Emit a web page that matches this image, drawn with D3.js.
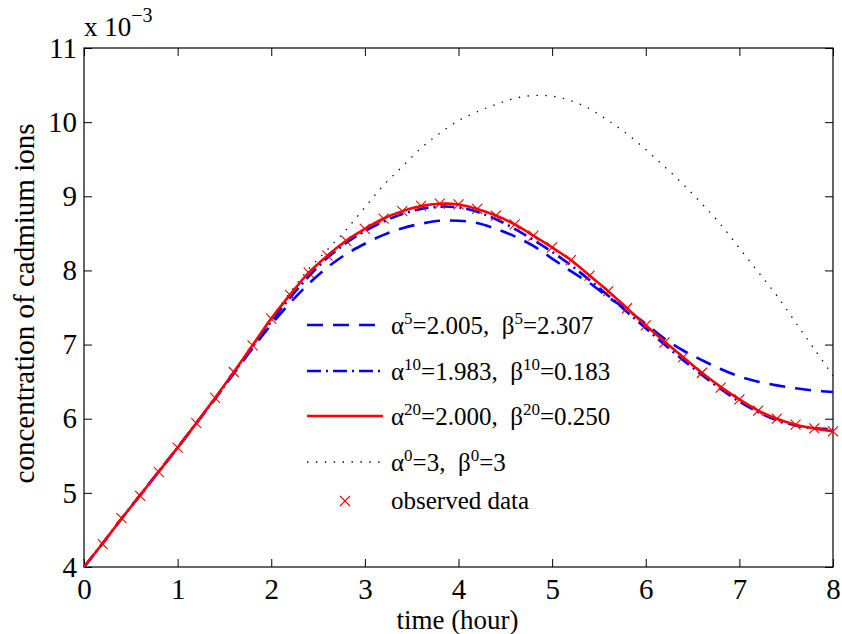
<!DOCTYPE html>
<html>
<head>
<meta charset="utf-8">
<script src="https://cdn.jsdelivr.net/npm/d3@7"></script>
<style>
  body { margin: 0; background: #fff; }
  text { font-family: "Liberation Serif", "Times New Roman", serif; fill: #000; }
</style>
</head>
<body>
<div id="chart"></div>
<script>
// concentration values are in units of 10^-3
const time = [0, 0.2, 0.4, 0.6, 0.8, 1.0, 1.2, 1.4, 1.6, 1.8, 2.0, 2.2, 2.4, 2.6, 2.8, 3.0, 3.2, 3.4, 3.6, 3.8, 4.0,
              4.2, 4.4, 4.6, 4.8, 5.0, 5.2, 5.4, 5.6, 5.8, 6.0, 6.2, 6.4, 6.6, 6.8, 7.0, 7.2, 7.4, 7.6, 7.8, 8.0]

// alpha^0 = 3, beta^0 = 3 (initial guess, dotted)
const fit0 = [4.00, 4.32, 4.65, 4.97, 5.29, 5.61, 5.94, 6.28, 6.63, 6.99, 7.36, 7.70, 8.02, 8.28, 8.55, 8.85, 9.15, 9.40, 9.65, 9.85, 10.02,
              10.14, 10.24, 10.32, 10.36, 10.35, 10.29, 10.18, 10.02, 9.84, 9.63, 9.40, 9.16, 8.90, 8.62, 8.30, 7.98, 7.66, 7.30, 6.94, 6.58]
// alpha^5, beta^5 (dashed)
const fit5 = [4.00, 4.32, 4.65, 4.97, 5.29, 5.61, 5.94, 6.27, 6.61, 6.95, 7.27, 7.56, 7.82, 8.04, 8.22, 8.36, 8.48, 8.57, 8.63, 8.67, 8.67,
              8.64, 8.56, 8.46, 8.33, 8.16, 7.99, 7.83, 7.64, 7.47, 7.28, 7.08, 6.92, 6.79, 6.67, 6.57, 6.50, 6.45, 6.41, 6.38, 6.36]
// alpha^10, beta^10 (dash-dot)
const fit10 = [4.00, 4.32, 4.65, 4.97, 5.29, 5.61, 5.94, 6.27, 6.62, 6.97, 7.31, 7.63, 7.92, 8.17, 8.37, 8.53, 8.66, 8.76, 8.83, 8.86, 8.85,
               8.79, 8.69, 8.56, 8.41, 8.25, 8.07, 7.87, 7.66, 7.44, 7.22, 7.00, 6.79, 6.59, 6.40, 6.23, 6.09, 5.98, 5.91, 5.87, 5.86]
// alpha^20, beta^20 (solid red)
const fit20 = [4.00, 4.32, 4.65, 4.97, 5.29, 5.61, 5.94, 6.28, 6.63, 6.99, 7.35, 7.67, 7.97, 8.20, 8.40, 8.56, 8.70, 8.80, 8.87, 8.90, 8.89,
               8.83, 8.74, 8.62, 8.47, 8.31, 8.14, 7.93, 7.72, 7.49, 7.26, 7.04, 6.83, 6.62, 6.43, 6.26, 6.11, 6.00, 5.92, 5.87, 5.83]

// observed data (x markers)
const obsTime = [0.2, 0.4, 0.6, 0.8, 1.0, 1.2, 1.4, 1.6, 1.8, 2.0, 2.2, 2.4, 2.6, 2.8, 3.0, 3.2, 3.4, 3.6, 3.8, 4.0,
                 4.2, 4.4, 4.6, 4.8, 5.0, 5.2, 5.4, 5.6, 5.8, 6.0, 6.2, 6.4, 6.6, 6.8, 7.0, 7.2, 7.4, 7.6, 7.8, 8.0]
const obsConc = [4.31, 4.66, 4.96, 5.28, 5.61, 5.94, 6.28, 6.63, 6.99, 7.35, 7.67, 7.97, 8.20, 8.40, 8.56, 8.70, 8.80, 8.87, 8.90, 8.89,
                 8.83, 8.74, 8.62, 8.47, 8.31, 8.14, 7.93, 7.72, 7.49, 7.26, 7.03, 6.83, 6.62, 6.42, 6.26, 6.11, 6.00, 5.92, 5.87, 5.83]

const xTicks = [0, 1, 2, 3, 4, 5, 6, 7, 8]
const yTicks = [4, 5, 6, 7, 8, 9, 10, 11]

const legendSup = ["5", "10", "20", "0"]
const alphaVals = ["2.005", "1.983", "2.000", "3"]
const betaVals = ["2.307", "0.183", "0.250", "3"]

var margin = {top: 48, right: 9, bottom: 67, left: 84},
    width = 842 - margin.left - margin.right,
    height = 634 - margin.top - margin.bottom;

var svg = d3.select("#chart")
  .append("svg")
    .attr("width", 842)
    .attr("height", 634)
  .append("g")
    .attr("transform", "translate(" + margin.left + "," + margin.top + ")");

var x = d3.scaleLinear().domain([0, 8]).range([0, width]);
var y = d3.scaleLinear().domain([4, 11]).range([height, 0]);

// axes, ticks pointing inwards on all four sides
svg.append("g")
    .attr("transform", "translate(0," + height + ")")
    .call(d3.axisBottom(x).tickValues(xTicks).tickSize(-8).tickPadding(11).tickFormat(d3.format("d")));
svg.append("g")
    .call(d3.axisLeft(y).tickValues(yTicks).tickSize(-8).tickPadding(7).tickFormat(d3.format("d")));
svg.append("g")
    .call(d3.axisTop(x).tickValues(xTicks).tickSize(-8).tickFormat(""));
svg.append("g")
    .attr("transform", "translate(" + width + ",0)")
    .call(d3.axisRight(y).tickValues(yTicks).tickSize(-8).tickFormat(""));

svg.selectAll(".domain").remove();
svg.selectAll(".tick line").attr("stroke", "#000").attr("stroke-width", 1);
svg.selectAll(".tick text").style("font-family", "Liberation Serif").style("font-size", "29px");

svg.append("rect")
    .attr("width", width)
    .attr("height", height)
    .attr("fill", "none")
    .attr("stroke", "#000")
    .attr("stroke-width", 1.2);

// multiplier
var mult = svg.append("text")
    .attr("x", 0)
    .attr("y", -12)
    .style("font-size", "27px");
mult.append("tspan").text("x 10");
mult.append("tspan").attr("dy", -14).style("font-size", "20px").text("\u22123");

// axis labels
svg.append("text")
    .attr("x", width / 2 - 1)
    .attr("y", height + 62)
    .attr("text-anchor", "middle")
    .style("font-size", "27px")
    .text("time (hour)");

svg.append("text")
    .attr("transform", "translate(" + (-50) + "," + (height / 2 - 4) + ") rotate(-90)")
    .attr("text-anchor", "middle")
    .style("font-size", "29px")
    .text("concentration of cadmium ions");

// curves
var series = [
  {vals: fit0, color: "#000", dash: "1.4,7.5", w: 1.3},
  {vals: fit5, color: "#0000ff", dash: "16,10", w: 2.6},
  {vals: fit10, color: "#0000ff", dash: "14,5,2,5", w: 2.6},
  {vals: fit20, color: "#ff0000", dash: null, w: 2.6}
];

var line = d3.line()
    .x((d, i) => x(time[i]))
    .y(d => y(d))
    .curve(d3.curveCatmullRom);

svg.selectAll(".curve")
    .data(series)
    .enter()
    .append("path")
      .attr("class", "curve")
      .attr("d", d => line(d.vals))
      .attr("fill", "none")
      .attr("stroke", d => d.color)
      .attr("stroke-width", d => d.w)
      .attr("stroke-dasharray", d => d.dash);

// observed data markers
var cross = "M-5,-5L5,5M-5,5L5,-5";
svg.selectAll(".obs")
    .data(obsConc)
    .enter()
    .append("path")
      .attr("class", "obs")
      .attr("transform", (d, i) => "translate(" + x(obsTime[i]) + "," + y(d) + ")")
      .attr("d", cross)
      .attr("stroke", "#ff0000")
      .attr("stroke-width", 1.1)
      .attr("fill", "none");

// legend, no box
var legendRows = [
  {color: "#0000ff", dash: "16,10", w: 2.6},
  {color: "#0000ff", dash: "14,5,2,5", w: 2.6},
  {color: "#ff0000", dash: null, w: 2.6},
  {color: "#000", dash: "1.4,7.5", w: 1.3}
];
var lx0 = 307 - margin.left, lx1 = 383 - margin.left, tx = 391 - margin.left;
var rowY = [325, 371, 416, 462].map(v => v - margin.top);

legendRows.forEach(function(r, i) {
  svg.append("line")
      .attr("x1", lx0).attr("x2", lx1)
      .attr("y1", rowY[i]).attr("y2", rowY[i])
      .attr("stroke", r.color)
      .attr("stroke-width", r.w)
      .attr("stroke-dasharray", r.dash);
  var t = svg.append("text")
      .attr("x", tx)
      .attr("y", rowY[i] + 9)
      .style("font-size", "25px");
  t.append("tspan").text("\u03b1");
  t.append("tspan").attr("dy", -10).style("font-size", "17px").text(legendSup[i]);
  t.append("tspan").attr("dy", 10).text("=" + alphaVals[i] + ",\u00a0 \u03b2");
  t.append("tspan").attr("dy", -10).style("font-size", "17px").text(legendSup[i]);
  t.append("tspan").attr("dy", 10).text("=" + betaVals[i]);
});

var obsY = 501 - margin.top;
svg.append("path")
    .attr("transform", "translate(" + ((lx0 + lx1) / 2) + "," + obsY + ")")
    .attr("d", cross)
    .attr("stroke", "#ff0000")
    .attr("stroke-width", 1.1)
    .attr("fill", "none");
svg.append("text")
    .attr("x", tx)
    .attr("y", obsY + 8)
    .style("font-size", "25px")
    .text("observed data");
</script>
</body>
</html>
